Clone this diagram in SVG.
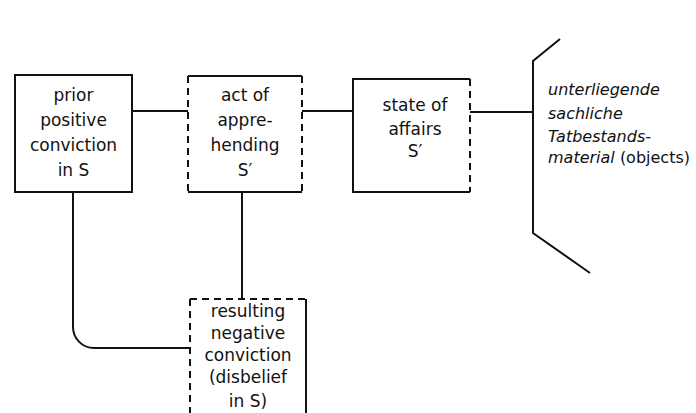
<svg xmlns="http://www.w3.org/2000/svg" width="696" height="413" viewBox="0 0 696 413">
<style>
.ln{stroke:#111;stroke-width:2;fill:none}
.ds{stroke:#111;stroke-width:2;fill:none;stroke-dasharray:7 5}
.t{font-family:"DejaVu Sans",sans-serif;font-size:17px;fill:#111;text-anchor:middle}
.it{font-family:"DejaVu Sans",sans-serif;font-size:16px;fill:#111;font-style:italic}
</style>
<rect width="696" height="413" fill="#fff"/>
<g id="connectors">
<line class="ln" x1="132" y1="111" x2="188" y2="111"/>
<line class="ln" x1="302" y1="111" x2="353" y2="111"/>
<line class="ln" x1="470" y1="112" x2="533" y2="112"/>
<line class="ln" x1="242" y1="192" x2="242" y2="299"/>
<path class="ln" d="M73 192 V327 A21 21 0 0 0 94 348 H190"/>
</g>
<g id="n1">
<rect class="ln" x="15" y="75" width="117" height="117"/>
<text class="t" x="73.5" y="101">prior</text>
<text class="t" x="73.5" y="126">positive</text>
<text class="t" x="73.5" y="151">conviction</text>
<text class="t" x="73.5" y="176">in S</text>
</g>
<g id="n2">
<line class="ln" x1="188" y1="76" x2="302" y2="76"/>
<line class="ln" x1="188" y1="192" x2="302" y2="192"/>
<line class="ds" x1="188" y1="76" x2="188" y2="192"/>
<line class="ds" x1="302" y1="76" x2="302" y2="192"/>
<text class="t" x="245" y="101">act of</text>
<text class="t" x="245" y="126">appre-</text>
<text class="t" x="245" y="151">hending</text>
<text class="t" x="245" y="176">S′</text>
</g>
<g id="n3">
<path class="ln" d="M470 79 H353 V192 H470"/>
<line class="ds" x1="470" y1="79" x2="470" y2="192"/>
<text class="t" x="415" y="111">state of</text>
<text class="t" x="415" y="135">affairs</text>
<text class="t" x="415" y="157">S′</text>
</g>
<g id="n4">
<line class="ds" x1="190" y1="299" x2="306" y2="299"/>
<line class="ds" x1="190" y1="299" x2="190" y2="415"/>
<line class="ln" x1="306" y1="299" x2="306" y2="415"/>
<text class="t" x="248" y="317">resulting</text>
<text class="t" x="248" y="339">negative</text>
<text class="t" x="248" y="361">conviction</text>
<text class="t" x="248" y="383">(disbelief</text>
<text class="t" x="248" y="407">in S)</text>
</g>
<g id="n5">
<path class="ln" d="M560 39 L533 61 V233 L590 273"/>
<text class="it" x="548" y="95">unterliegende</text>
<text class="it" x="548" y="119">sachliche</text>
<text class="it" x="548" y="142">Tatbestands-</text>
<text class="it" x="548" y="163">material <tspan font-style="normal">(objects)</tspan></text>
</g>
</svg>
